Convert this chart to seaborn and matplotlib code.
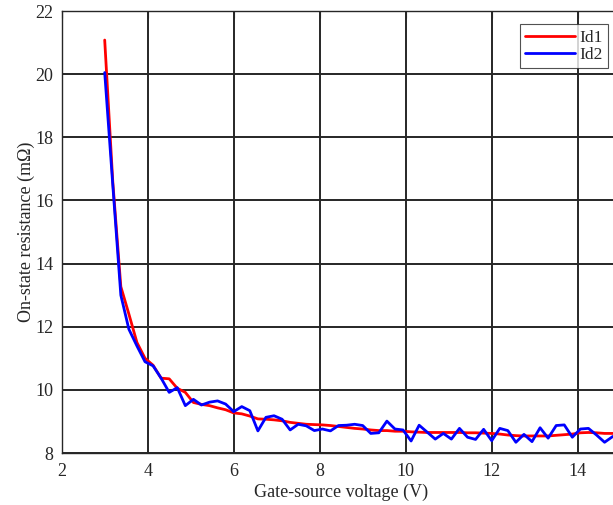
import numpy as np
import pandas as pd
import seaborn as sns
import matplotlib
matplotlib.use("Agg")
import matplotlib.pyplot as plt

# Gate-source voltage sweep (V)
voltage = [3.0, 3.1875, 3.375, 3.5625, 3.75, 3.9375, 4.125, 4.3125, 4.5, 4.6875,
           4.875, 5.0625, 5.25, 5.4375, 5.625, 5.8125, 6.0, 6.1875, 6.375, 6.5625,
           6.75, 6.9375, 7.125, 7.3125, 7.5, 7.6875, 7.875, 8.0625, 8.25, 8.4375,
           8.625, 8.8125, 9.0, 9.1875, 9.375, 9.5625, 9.75, 9.9375, 10.125, 10.3125,
           10.5, 10.6875, 10.875, 11.0625, 11.25, 11.4375, 11.625, 11.8125, 12.0, 12.1875,
           12.375, 12.5625, 12.75, 12.9375, 13.125, 13.3125, 13.5, 13.6875, 13.875, 14.0625,
           14.25, 14.4375, 14.625, 14.8125, 15.0]

# On-state resistance (mOhm)
id1 = [21.08, 16.6, 13.27, 12.4, 11.5, 11.0, 10.78, 10.37, 10.35, 10.05,
       9.92, 9.6, 9.54, 9.5, 9.43, 9.37, 9.27, 9.24, 9.17, 9.08,
       9.07, 9.05, 9.02, 8.97, 8.94, 8.91, 8.9, 8.89, 8.87, 8.84,
       8.81, 8.78, 8.76, 8.73, 8.71, 8.71, 8.69, 8.69, 8.67, 8.66,
       8.65, 8.65, 8.65, 8.65, 8.65, 8.64, 8.64, 8.63, 8.62, 8.6,
       8.57, 8.55, 8.54, 8.54, 8.54, 8.54, 8.56, 8.58, 8.6, 8.64,
       8.65, 8.64, 8.62, 8.62, 8.62]
id2 = [20.05, 16.5, 13.0, 11.92, 11.39, 10.89, 10.76, 10.37, 9.92, 10.07,
       9.5, 9.7, 9.52, 9.61, 9.65, 9.55, 9.31, 9.47, 9.34, 8.7,
       9.13, 9.18, 9.07, 8.73, 8.91, 8.86, 8.71, 8.76, 8.7, 8.87,
       8.88, 8.91, 8.87, 8.62, 8.64, 9.01, 8.76, 8.73, 8.38, 8.88,
       8.66, 8.44, 8.62, 8.44, 8.78, 8.5, 8.43, 8.75, 8.39, 8.78,
       8.71, 8.34, 8.59, 8.36, 8.8, 8.47, 8.87, 8.89, 8.5, 8.76,
       8.78, 8.57, 8.34, 8.52, 8.6]

df = pd.DataFrame({"voltage": voltage, "Id1": id1, "Id2": id2})

sns.set_style("white")
plt.rcParams["font.family"] = ["Liberation Serif", "DejaVu Serif"]

fig = plt.figure(figsize=(6.13, 5.05), dpi=100)
ax = fig.add_axes([61.7 / 613, 52 / 505, 559 / 613, 442 / 505])

sns.lineplot(data=df, x="voltage", y="Id1", color="#ff0000", linewidth=2.0,
             label="Id1", ax=ax)
sns.lineplot(data=df, x="voltage", y="Id2", color="#0000ff", linewidth=2.0,
             label="Id2", ax=ax)

ax.set_xlim(2, 15)
ax.set_ylim(8, 22)
ax.set_xticks([2, 4, 6, 8, 10, 12, 14])
ax.set_yticks([8, 10, 12, 14, 16, 18, 20, 22])
ax.grid(True, color="#262626", linewidth=1.4)
ax.set_axisbelow(True)
for s in ax.spines.values():
    s.set_color("#262626")
    s.set_linewidth(1.0)
ax.tick_params(direction="in", length=5, width=0.8, labelsize=13, pad=6,
               colors="#262626", top=True, right=True)
ax.tick_params(axis="x", pad=7)

ax.set_xlabel("Gate-source voltage (V)", fontsize=13, color="#262626", labelpad=3)
ax.set_ylabel("On-state resistance (mΩ)", fontsize=13, color="#262626", labelpad=0.5)

leg = ax.legend(loc="upper right", bbox_to_anchor=(608.3 / 613, 1 - 24.3 / 505),
                bbox_transform=fig.transFigure, borderaxespad=0, fontsize=12.5,
                handlelength=2.9, handletextpad=0.25, labelspacing=0.05,
                borderpad=0.3, frameon=True, fancybox=False)
leg.get_frame().set_edgecolor("#262626")
leg.get_frame().set_linewidth(0.8)

fig.savefig("out.png", dpi=100)
